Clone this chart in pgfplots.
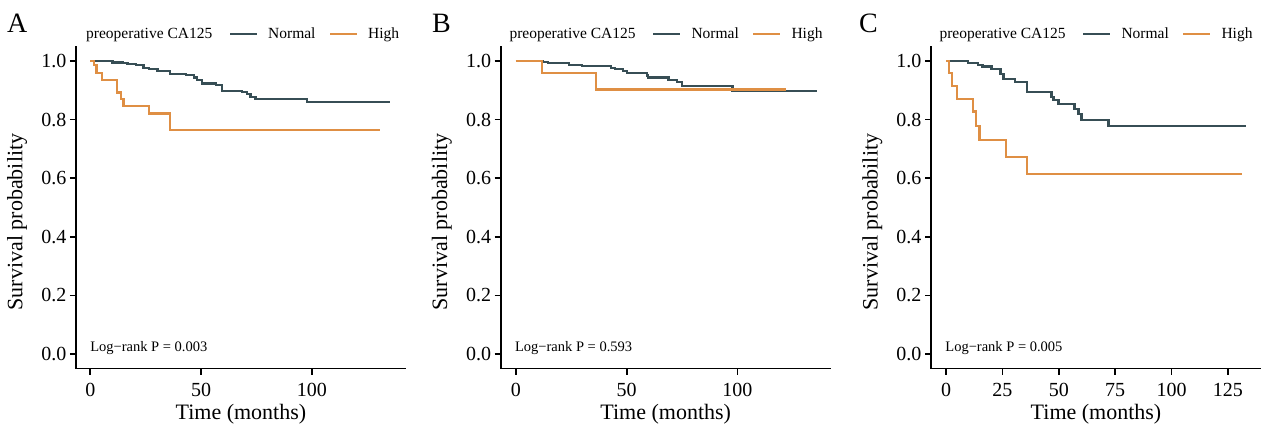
\documentclass[border=0pt]{standalone}
\usepackage{fontspec}
\setmainfont{Liberation Serif}
\usepackage{pgfplots}
\pgfplotsset{compat=1.18}
\definecolor{normal}{HTML}{374E55}
\definecolor{high}{HTML}{DF8F44}

\pgfplotsset{
  km/.style={
    scale only axis, width=330pt, height=322.3pt,
    ymin=-0.05, ymax=1.05,
    axis lines=left, axis line style={-, line width=1.6pt, black},
    tick align=outside, major tick length=6pt,
    tick style={black, line width=1.6pt},
    ytick={0,0.2,...,1},
    yticklabel style={/pgf/number format/fixed,/pgf/number format/precision=1,/pgf/number format/fixed zerofill},
    xticklabel shift=5pt,
    /pgf/number format/assume math mode=true,
    ticklabel style={font=\fontsize{20}{22}\selectfont},
    xlabel={Time (months)}, ylabel={Survival probability},
    label style={font=\fontsize{22}{25}\selectfont},
    xlabel style={at={(axis description cs:0.5,-0.142)}, anchor=center},
    ylabel style={at={(axis description cs:-0.178,0.455)}, anchor=center, rotate=0},
    clip=false,
  },
  nrm/.style={normal, line width=2.3pt, const plot},
  hig/.style={high, line width=2.3pt, const plot},
}
\newcommand{\lr}[1]{\node[anchor=west, inner sep=0pt, font=\fontsize{14.5}{17}\selectfont] at (axis description cs:0.043,0.064) {Log−rank P = #1};}
\newcommand{\legendat}[2]{%
  \node[anchor=base west, inner sep=0pt, font=\fontsize{15.5}{18}\selectfont] at (#1pt,#2pt) {preoperative CA125};
  \draw[normal, line width=2.2pt] (#1pt+144pt,#2pt+5pt) -- ++(27pt,0);
  \node[anchor=base west, inner sep=0pt, font=\fontsize{15.5}{18}\selectfont] at (#1pt+182pt,#2pt) {Normal};
  \draw[high, line width=2.2pt] (#1pt+244pt,#2pt+5pt) -- ++(27pt,0);
  \node[anchor=base west, inner sep=0pt, font=\fontsize{15.5}{18}\selectfont] at (#1pt+282pt,#2pt) {High};
}

\begin{document}
\begin{tikzpicture}
\useasboundingbox (0,0) rectangle (1263pt,428pt);

% A
\begin{axis}[km, at={(75.9pt,59.4pt)}, anchor=south west,
  xmin=-6.5, xmax=142.5, xtick={0,50,100}]
\addplot[nrm] coordinates {(0,1.0)(10,0.995)(14.6,0.992)(16.8,0.989)(20.6,0.986)(24,0.975)(26.6,0.972)(30.3,0.965)(35.9,0.955)(43.1,0.951)(46.8,0.943)(48.3,0.935)(50.3,0.923)(56.6,0.919)(59.6,0.897)(68.6,0.893)(70.9,0.886)(72.4,0.878)(74.6,0.869)(97.9,0.859)(135.4,0.859)};
\addplot[hig] coordinates {(0,1.0)(1.8,0.986)(2.8,0.958)(5.3,0.935)(12,0.892)(13.8,0.869)(15,0.846)(26.6,0.821)(35.9,0.764)(131,0.764)};
\lr{0.003}
\end{axis}

% B
\begin{axis}[km, at={(500.7pt,59.4pt)}, anchor=south west,
  xmin=-6.9, xmax=142.1, xtick={0,50,100}]
\addplot[nrm] coordinates {(0,1.0)(12.3,0.997)(14.6,0.994)(23.9,0.987)(29.7,0.983)(42.9,0.977)(44.7,0.972)(48.4,0.965)(50.0,0.958)(59.0,0.950)(59.7,0.943)(68.8,0.935)(72.6,0.927)(74.8,0.915)(97.8,0.897)(135.8,0.897)};
\addplot[hig] coordinates {(0,1.0)(11.9,0.958)(36.1,0.903)(121.9,0.903)};
\lr{0.593}
\end{axis}

% C
\begin{axis}[km, at={(931pt,59.4pt)}, anchor=south west,
  xmin=-6.65, xmax=139.65, xtick={0,25,50,75,100,125}]
\addplot[nrm] coordinates {(0,1.0)(9.7,0.994)(14.2,0.986)(16.2,0.981)(20.1,0.972)(24.1,0.955)(25.5,0.939)(30.7,0.927)(35.9,0.893)(46.7,0.878)(47.7,0.867)(49.9,0.853)(56.9,0.835)(58.8,0.818)(60,0.799)(72.1,0.778)(133.1,0.778)};
\addplot[hig] coordinates {(0,1.0)(1.2,0.958)(2.7,0.915)(4.9,0.869)(12,0.827)(13.4,0.778)(14.9,0.730)(26.7,0.673)(35.9,0.613)(131.2,0.613)};
\lr{0.005}
\end{axis}

% panel letters
\node[anchor=base west, inner sep=0pt, font=\fontsize{28}{30}\selectfont] at (7pt,395pt) {A};
\node[anchor=base west, inner sep=0pt, font=\fontsize{28}{30}\selectfont] at (432pt,395pt) {B};
\node[anchor=base west, inner sep=0pt, font=\fontsize{28}{30}\selectfont] at (859pt,395pt) {C};

% legends
\legendat{86}{389}
\legendat{509.3}{389}
\legendat{939.3}{389}
\end{tikzpicture}
\end{document}
